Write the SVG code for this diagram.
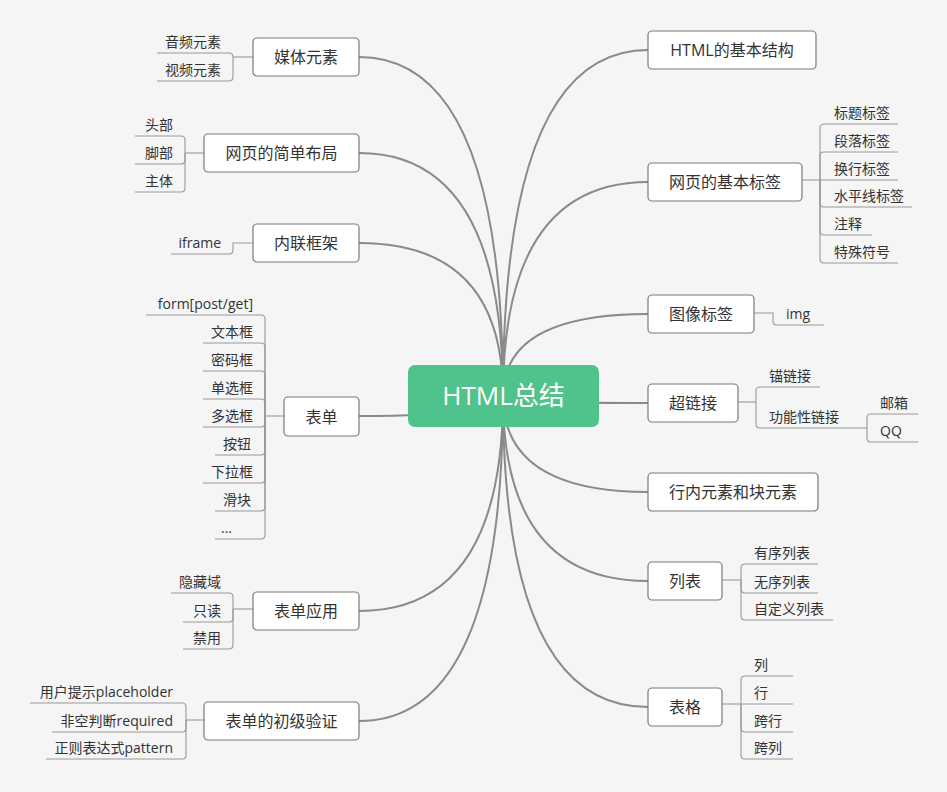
<svg xmlns="http://www.w3.org/2000/svg" width="947" height="792" viewBox="0 0 947 792">
<style>
.bg{fill:#f5f5f5}
.box{fill:#fff;stroke:#7a7a7a;stroke-width:1.2}
.mt{font-family:"Open Sans","Noto Sans CJK SC",sans-serif;font-size:16px;fill:#333;text-anchor:middle}
.st{font-family:"Open Sans","Noto Sans CJK SC",sans-serif;font-size:14px;fill:#333}
.l{text-anchor:end}
.curve{fill:none;stroke:#8a8a8a;stroke-width:2}
.ln{fill:none;stroke:#999;stroke-width:1.1}
</style>
<rect class="bg" x="0" y="0" width="947" height="792"/>
<g id="connectors">
  <path class="curve" d="M503,396 Q503,57 359,57"/>
  <path class="curve" d="M503,396 Q503,153 359,153"/>
  <path class="curve" d="M503,396 Q503,243 359,243"/>
  <path class="curve" d="M503,396 Q503,416 359,416"/>
  <path class="curve" d="M503,396 Q503,611 359,611"/>
  <path class="curve" d="M503,396 Q503,721 359,721"/>
  <path class="curve" d="M503,396 Q503,50 648,50"/>
  <path class="curve" d="M503,396 Q503,182 648,182"/>
  <path class="curve" d="M503,396 Q503,314 648,314"/>
  <path class="curve" d="M503,396 Q503,403 648,403"/>
  <path class="curve" d="M503,396 Q503,492 648,492"/>
  <path class="curve" d="M503,396 Q503,581 648,581"/>
  <path class="curve" d="M503,396 Q503,707 648,707"/>
  <!-- 媒体元素 -->
  <path class="ln" d="M253,57 H233"/>
  <path class="ln" d="M233,57 Q233,53 229,53 H157"/>
  <path class="ln" d="M233,57 V77 Q233,81 229,81 H157"/>
  <!-- 网页的简单布局 -->
  <path class="ln" d="M204,153 H185"/>
  <path class="ln" d="M185,153 V140 Q185,136 181,136 H135"/>
  <path class="ln" d="M185,153 V160 Q185,164 181,164 H135"/>
  <path class="ln" d="M185,153 V188 Q185,192 181,192 H135"/>
  <!-- 内联框架 -->
  <path class="ln" d="M253,243 H233 V250 Q233,254 229,254 H171"/>
  <!-- 表单 -->
  <path class="ln" d="M284,416 H265"/>
  <path class="ln" d="M265,416 V319 Q265,315 261,315 H146"/>
  <path class="ln" d="M265,416 V347 Q265,343 261,343 H203"/>
  <path class="ln" d="M265,416 V375 Q265,371 261,371 H203"/>
  <path class="ln" d="M265,416 V403 Q265,399 261,399 H203"/>
  <path class="ln" d="M265,416 V423 Q265,427 261,427 H203"/>
  <path class="ln" d="M265,416 V451 Q265,455 261,455 H215"/>
  <path class="ln" d="M265,416 V479 Q265,483 261,483 H203"/>
  <path class="ln" d="M265,416 V507 Q265,511 261,511 H215"/>
  <path class="ln" d="M265,416 V535 Q265,539 261,539 H215"/>
  <!-- 表单应用 -->
  <path class="ln" d="M253,609 H233"/>
  <path class="ln" d="M233,609 V597 Q233,593 229,593 H171"/>
  <path class="ln" d="M233,609 V618 Q233,622 229,622 H183"/>
  <path class="ln" d="M233,609 V645 Q233,649 229,649 H183"/>
  <!-- 表单的初级验证 -->
  <path class="ln" d="M204,720 H186"/>
  <path class="ln" d="M186,720 V707 Q186,703 182,703 H30"/>
  <path class="ln" d="M186,720 V728 Q186,732 182,732 H52"/>
  <path class="ln" d="M186,720 V755 Q186,759 182,759 H46"/>
  <!-- 网页的基本标签 -->
  <path class="ln" d="M802,180 H820"/>
  <path class="ln" d="M820,180 V128 Q820,124 824,124 H898"/>
  <path class="ln" d="M820,180 V156 Q820,152 824,152 H898"/>
  <path class="ln" d="M820,180 H898"/>
  <path class="ln" d="M820,180 V203 Q820,207 824,207 H912"/>
  <path class="ln" d="M820,180 V231 Q820,235 824,235 H872"/>
  <path class="ln" d="M820,180 V259 Q820,263 824,263 H898"/>
  <!-- 图像标签 -->
  <path class="ln" d="M754,313 H773 V321 Q773,325 777,325 H824"/>
  <!-- 超链接 -->
  <path class="ln" d="M738,402 H756"/>
  <path class="ln" d="M756,402 V391 Q756,387 760,387 H820"/>
  <path class="ln" d="M756,402 V424 Q756,428 760,428 H867"/>
  <path class="ln" d="M867,428 V418 Q867,414 871,414 H918"/>
  <path class="ln" d="M867,428 V438 Q867,442 871,442 H918"/>
  <!-- 列表 -->
  <path class="ln" d="M722,580 H741"/>
  <path class="ln" d="M741,580 V568 Q741,564 745,564 H818"/>
  <path class="ln" d="M741,580 V589 Q741,593 745,593 H818"/>
  <path class="ln" d="M741,580 V616 Q741,620 745,620 H833"/>
  <!-- 表格 -->
  <path class="ln" d="M722,704 H741"/>
  <path class="ln" d="M741,704 V680 Q741,676 745,676 H793"/>
  <path class="ln" d="M741,704 H793"/>
  <path class="ln" d="M741,704 V728 Q741,732 745,732 H793"/>
  <path class="ln" d="M741,704 V755 Q741,759 745,759 H793"/>
</g>
<g id="root">
  <rect x="408" y="365" width="191" height="62" rx="7" fill="#50c38c"/>
  <text x="503.5" y="405" font-family="Open Sans, Noto Sans CJK SC, sans-serif" font-size="26" fill="#fff" text-anchor="middle">HTML总结</text>
</g>
<g id="n-media"><rect class="box" x="253" y="38" width="106" height="38" rx="4"/><text class="mt" x="306" y="63">媒体元素</text></g>
<g id="n-layout"><rect class="box" x="204" y="134" width="155" height="38" rx="4"/><text class="mt" x="281.5" y="159">网页的简单布局</text></g>
<g id="n-iframe"><rect class="box" x="253" y="224" width="106" height="38" rx="4"/><text class="mt" x="306" y="249">内联框架</text></g>
<g id="n-form"><rect class="box" x="284" y="397" width="75" height="39" rx="4"/><text class="mt" x="321.5" y="422.5">表单</text></g>
<g id="n-formapp"><rect class="box" x="253" y="592" width="106" height="38" rx="4"/><text class="mt" x="306" y="617">表单应用</text></g>
<g id="n-valid"><rect class="box" x="204" y="702" width="155" height="38" rx="4"/><text class="mt" x="281.5" y="727">表单的初级验证</text></g>
<g id="n-struct"><rect class="box" x="648" y="31" width="168" height="38" rx="4"/><text class="mt" x="732" y="56">HTML的基本结构</text></g>
<g id="n-tags"><rect class="box" x="648" y="163" width="154" height="38" rx="4"/><text class="mt" x="725" y="188">网页的基本标签</text></g>
<g id="n-img"><rect class="box" x="648" y="295" width="106" height="38" rx="4"/><text class="mt" x="701" y="320">图像标签</text></g>
<g id="n-link"><rect class="box" x="648" y="384" width="90" height="38" rx="4"/><text class="mt" x="693" y="409">超链接</text></g>
<g id="n-inline"><rect class="box" x="648" y="473" width="170" height="38" rx="4"/><text class="mt" x="733" y="498">行内元素和块元素</text></g>
<g id="n-list"><rect class="box" x="648" y="562" width="74" height="38" rx="4"/><text class="mt" x="685" y="587">列表</text></g>
<g id="n-table"><rect class="box" x="648" y="688" width="74" height="38" rx="4"/><text class="mt" x="685" y="713">表格</text></g>
<g id="c-media" class="st l">
  <text x="221" y="47">音频元素</text><text x="221" y="75">视频元素</text>
</g>
<g id="c-layout" class="st l">
  <text x="173" y="130">头部</text><text x="173" y="158">脚部</text><text x="173" y="186">主体</text>
</g>
<g id="c-iframe" class="st l"><text x="221" y="248">iframe</text></g>
<g id="c-form" class="st l">
  <text x="253" y="309">form[post/get]</text>
  <text x="253" y="337">文本框</text>
  <text x="253" y="365">密码框</text>
  <text x="253" y="393">单选框</text>
  <text x="253" y="421">多选框</text>
  <text x="251" y="449">按钮</text>
  <text x="253" y="477">下拉框</text>
  <text x="251" y="505">滑块</text>
  <text x="232" y="533">...</text>
</g>
<g id="c-formapp" class="st l">
  <text x="221" y="587">隐藏域</text><text x="221" y="616">只读</text><text x="221" y="643">禁用</text>
</g>
<g id="c-valid" class="st l">
  <text x="173" y="697">用户提示placeholder</text>
  <text x="173" y="726">非空判断required</text>
  <text x="173" y="753">正则表达式pattern</text>
</g>
<g id="c-tags" class="st">
  <text x="834" y="118">标题标签</text>
  <text x="834" y="146">段落标签</text>
  <text x="834" y="174">换行标签</text>
  <text x="834" y="201">水平线标签</text>
  <text x="834" y="229">注释</text>
  <text x="834" y="257">特殊符号</text>
</g>
<g id="c-img" class="st"><text x="786" y="319">img</text></g>
<g id="c-link" class="st">
  <text x="769" y="381">锚链接</text>
  <text x="769" y="422">功能性链接</text>
  <text x="880" y="408">邮箱</text>
  <text x="880" y="436">QQ</text>
</g>
<g id="c-list" class="st">
  <text x="754" y="558">有序列表</text>
  <text x="754" y="587">无序列表</text>
  <text x="754" y="614">自定义列表</text>
</g>
<g id="c-table" class="st">
  <text x="754" y="670">列</text>
  <text x="754" y="698">行</text>
  <text x="754" y="726">跨行</text>
  <text x="754" y="753">跨列</text>
</g>
</svg>
